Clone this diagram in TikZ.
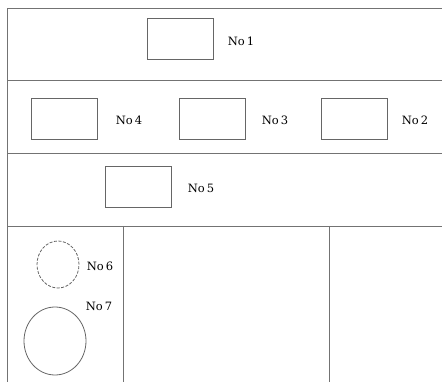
\documentclass[tikz,border=0pt]{standalone}
\usepackage{fontspec}
\setmainfont{DejaVu Serif}
\usetikzlibrary{shapes.geometric}
\begin{document}
\begin{tikzpicture}[x=1pt,y=-1pt,
  frame/.style={draw=black!55,line width=0.9pt},
  box/.style={draw=black!60,line width=0.8pt,minimum width=66pt,minimum height=41pt,inner sep=0pt},
  lbl/.style={font=\fontsize{11.5}{14}\selectfont,inner sep=0pt,text=black},
  oval/.style={ellipse,draw=black!60,line width=0.8pt,inner sep=0pt}]
\useasboundingbox (0,0) rectangle (442,382);
% frame lines
\coordinate (tl) at (7,8);
\coordinate (tr) at (442,8);
\coordinate (bl) at (7,382);
\draw[frame] (tr) -- (tl) -- (bl);
\coordinate (a1) at (7,80);   \coordinate (a2) at (442,80);
\coordinate (b1) at (7,153);  \coordinate (b2) at (442,153);
\coordinate (c1) at (7,226);  \coordinate (c2) at (442,226);
\draw[frame] (a1) -- (a2);
\draw[frame] (b1) -- (b2);
\draw[frame] (c1) -- (c2);
\coordinate (v1t) at (123,226); \coordinate (v1b) at (123,382);
\coordinate (v2t) at (329,226); \coordinate (v2b) at (329,382);
\draw[frame] (v1t) -- (v1b);
\draw[frame] (v2t) -- (v2b);
% boxes
\node[box] (n1) at (180,38.5) {};
\node[lbl] (l1) at (241,41) {No\,1};
\node[box] (n4) at (64.5,119) {};
\node[lbl] (l4) at (129,120.5) {No\,4};
\node[box] (n3) at (212.5,119) {};
\node[lbl] (l3) at (275,120.5) {No\,3};
\node[box] (n2) at (354,119) {};
\node[lbl] (l2) at (415,120.5) {No\,2};
\node[box] (n5) at (138.5,186.5) {};
\node[lbl] (l5) at (201,188) {No\,5};
% circles
\node[oval,dashed,dash pattern=on 3pt off 1.5pt,minimum width=42pt,minimum height=47pt] (n6) at (58,264.5) {};
\node[lbl] (l6) at (100,266) {No\,6};
\node[oval,minimum width=62pt,minimum height=68pt] (n7) at (55,341) {};
\node[lbl] (l7) at (99,306) {No\,7};
\end{tikzpicture}
\end{document}
